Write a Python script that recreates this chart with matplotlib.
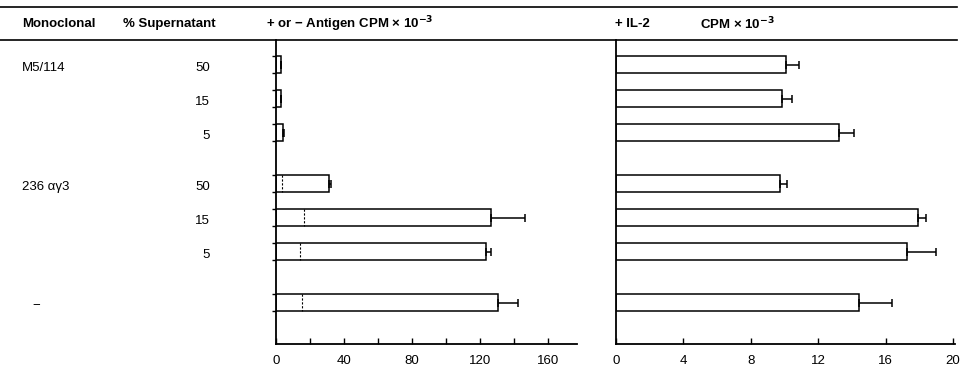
import matplotlib.pyplot as plt
from matplotlib.lines import Line2D
from matplotlib.transforms import blended_transform_factory
import numpy as np

plt.rcParams['font.family'] = ['Liberation Sans', 'DejaVu Sans']

# rows, top to bottom
monoclonal = ["M5/114", "", "", "236 \u03b1\u03b33", "", "", "\u2212"]
supernatant = ["50", "15", "5", "50", "15", "5", ""]
ypos = [0, 1, 2, 3.5, 4.5, 5.5, 7]

# + or - antigen, CPM x 10^-3
antigen_cpm = [3.0, 3.3, 4.5, 31.4, 126.6, 123.7, 130.6]
antigen_err = [0, 0, 0.6, 1.1, 20.0, 2.9, 11.7]
minus_antigen = [None, None, None, 3.9, 16.6, 14.3, 15.3]

# + IL-2, CPM x 10^-3
il2_cpm = [10.1, 9.84, 13.23, 9.72, 17.95, 17.3, 14.4]
il2_err = [0.75, 0.63, 0.87, 0.43, 0.45, 1.7, 2.0]

fs = 9.5

fig = plt.figure(figsize=(9.63, 3.71), dpi=100)
ax1 = fig.add_axes([0.2863, 0.0728, 0.3129, 0.8194])
ax2 = fig.add_axes([0.6394, 0.0728, 0.352, 0.8194])

bh = 0.5
lw = 1.1

for ax, vals, errs, xmax in [(ax1, antigen_cpm, antigen_err, 177), (ax2, il2_cpm, il2_err, 20.1)]:
    ax.barh(ypos, vals, height=bh, color='white', edgecolor='black', linewidth=lw, zorder=2)
    ax.errorbar(vals, ypos, xerr=[np.zeros(len(errs)), errs], fmt='none',
                ecolor='black', elinewidth=lw, capsize=2.9, capthick=lw, zorder=3)
    ax.set_xlim(0, xmax)
    ax.set_ylim(8.21, -0.735)
    for s in ['top', 'right']:
        ax.spines[s].set_visible(False)
    ax.spines['left'].set_linewidth(1.3)
    ax.spines['bottom'].set_linewidth(1.3)
    ax.tick_params(axis='x', direction='in', length=4, width=1, labelsize=fs, pad=8)
    ax.set_yticks([])

# dashed lines for - antigen
for y, v in zip(ypos, minus_antigen):
    if v is not None:
        ax1.plot([v, v], [y - bh / 2, y + bh / 2], color='black', lw=0.8,
                 linestyle=(0, (2, 1.5)), zorder=3)

ax1.set_xticks([0, 40, 80, 120, 160])
ax1.set_xticks([20, 60, 100, 140], minor=True)
ax1.tick_params(axis='x', which='minor', direction='in', length=4, width=1)
ax2.set_xticks([0, 4, 8, 12, 16, 20])

# small nubs at bar edges on left panel
edges = [y + d for y in ypos for d in (-bh / 2, bh / 2)]
ax1.set_yticks(edges)
ax1.set_yticklabels([])
ax1.tick_params(axis='y', direction='out', length=3, width=1)

# row labels
tr = blended_transform_factory(fig.transFigure, ax1.transData)
for y, m, s in zip(ypos, monoclonal, supernatant):
    if m:
        mx = 0.034 if m == "\u2212" else 0.023
        ax1.text(mx, y + 0.08, m, transform=tr, fontsize=fs, va='center', ha='left')
    if s:
        ax1.text(0.218, y + 0.08, s, transform=tr, fontsize=fs, va='center', ha='right')

# header
hy = 1 - 24 / 371
fig.text(0.023, hy, "Monoclonal", fontsize=fs, fontweight='bold', va='center')
fig.text(0.128, hy, "% Supernatant", fontsize=fs, fontweight='bold', va='center')
fig.text(0.276, hy, "+ or \u2212 Antigen CPM \u00d7 10$^{\\mathbf{-3}}$", fontsize=fs,
         fontweight='bold', va='center')
fig.text(0.639, hy, "+ IL-2", fontsize=fs, fontweight='bold', va='center')
fig.text(0.727, hy, "CPM \u00d7 10$^{\\mathbf{-3}}$", fontsize=fs, fontweight='bold', va='center')

fig.add_artist(Line2D([0, 957 / 963], [1 - 7 / 371] * 2, color='black', lw=1.2,
                      transform=fig.transFigure))
fig.add_artist(Line2D([0, 957 / 963], [1 - 40 / 371] * 2, color='black', lw=1.2,
                      transform=fig.transFigure))

fig.savefig("out.png", dpi=100)
